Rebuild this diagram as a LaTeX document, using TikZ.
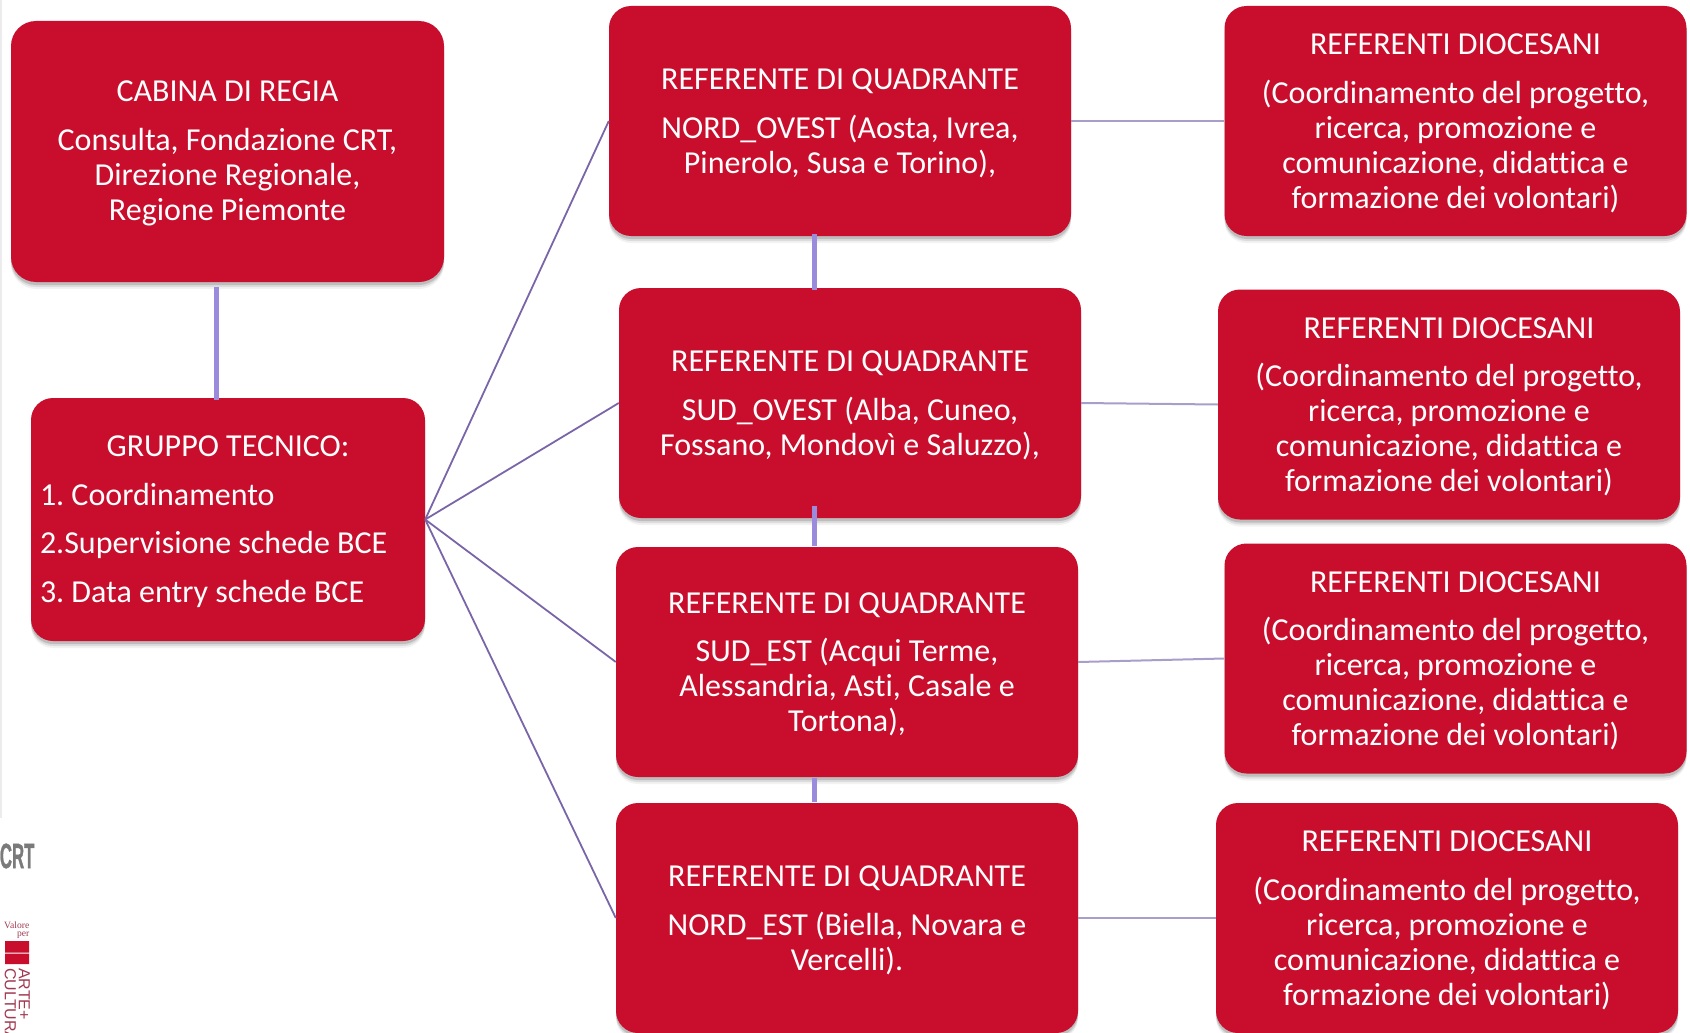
\documentclass[tikz,border=0pt]{standalone}
\usepackage{fontspec}
\setmainfont{Carlito}[Ligatures=NoCommon]
\newfontfamily\logoserif{Liberation Serif}
\newfontfamily\logosans{Liberation Sans}
\newfontfamily\logobold{Liberation Sans Bold}[FakeBold=1.5]
\usetikzlibrary{shadows,calc}
\definecolor{boxred}{HTML}{C80E2C}
\definecolor{thickline}{HTML}{9B8BDC}
\definecolor{fanline}{HTML}{7A65A8}
\definecolor{linkline}{HTML}{A99DC9}
\definecolor{logogrey}{HTML}{7A7A7A}
\definecolor{logored}{HTML}{A03A52}
\tikzset{
  x=1pt,y=-1pt,
  softshadow/.style={
    general shadow={shadow yshift=-7pt,fill=black,fill opacity=.05},
    general shadow={shadow yshift=-5pt,fill=black,fill opacity=.09},
    general shadow={shadow yshift=-3pt,fill=black,fill opacity=.14}},
  box/.style={softshadow,fill=boxred,text=white,rounded corners=22pt,inner sep=0pt,
    align=center,font=\fontsize{32}{35}\selectfont\frenchspacing},
  quad/.style={box,minimum width=462pt,minimum height=230pt,text width=440pt},
  thickconn/.style={draw=thickline,line width=5pt},
  fan/.style={draw=fanline,line width=1.8pt},
  link/.style={draw=linkline,line width=2pt},
}
\newcommand{\para}{\\[13.5pt]}
\newcommand{\startbox}{\spaceskip=.226em\relax\leavevmode\rule{0pt}{25pt}}
\newcommand{\lft}[1]{\makebox[376pt][l]{#1}}
\newcommand{\refdio}{\startbox REFERENTI DIOCESANI\para (Coordinamento del progetto,\\ ricerca, promozione e\\ comunicazione, didattica e\\ formazione dei volontari)}
\begin{document}
\begin{tikzpicture}
\useasboundingbox (0,0) rectangle (1690,1033);
\clip (0,0) rectangle (1690,1033);
\fill[gray!15] (0,0) rectangle (2,818);
% logos
\node[anchor=east,inner sep=0pt,text=logogrey,font=\logobold\fontsize{35}{35}\selectfont,xscale=.48] (crt) at (34.5,856) {CRT};
\node[anchor=north east,inner sep=0pt,align=right,text=logored,font=\logoserif\fontsize{9.6}{7.5}\selectfont] (valore) at (29.5,922) {Valore\\per};
\fill[boxred] (5,941) rectangle (29,952.5) (5,953.5) rectangle (29,964);
\node[rotate=-90,anchor=north west,inner sep=0pt,align=left,text=logored,font=\logosans\fontsize{16}{14}\selectfont] (arte) at (30,968) {ARTE+\\CULTURA};
% boxes
\node[box,rounded corners=25pt,minimum width=433pt,minimum height=261pt,text width=420pt] (cab) at (227.5,151.5)
  {\startbox CABINA DI REGIA\para Consulta, Fondazione CRT,\\ Direzione Regionale,\\ Regione Piemonte};
\node[box,minimum width=394pt,minimum height=243pt,text width=376pt] (grp) at (228,519.5)
  {\startbox GRUPPO TECNICO:\\[13.5pt] \lft{1. Coordinamento}\\[13.5pt] \lft{2.Supervisione schede BCE}\\[13.5pt] \lft{3. Data entry schede BCE}};
\node[quad] (qa) at (840,121) {\startbox REFERENTE DI QUADRANTE\para NORD\_OVEST (Aosta, Ivrea,\\ Pinerolo, Susa e Torino),};
\node[quad] (qb) at (850,403) {\startbox REFERENTE DI QUADRANTE\para SUD\_OVEST (Alba, Cuneo,\\ Fossano, Mondovì e Saluzzo),};
\node[quad] (qc) at (847,662) {\startbox REFERENTE DI QUADRANTE\para SUD\_EST (Acqui Terme,\\ Alessandria, Asti, Casale e\\ Tortona),};
\node[quad] (qd) at (847,918) {\startbox REFERENTE DI QUADRANTE\para NORD\_EST (Biella, Novara e\\ Vercelli).};
\node[quad] (ra) at (1455.5,121) {\refdio};
\node[quad] (rb) at (1449,404.5) {\refdio};
\node[quad] (rc) at (1455.5,658.5) {\refdio};
\node[quad] (rd) at (1447,918) {\refdio};
% connectors
\draw[thickconn,shorten <=5pt,shorten >=-2pt] ([xshift=-11pt]cab.south) -- ([xshift=-11.5pt]grp.north);
\draw[thickconn,shorten <=-2pt,shorten >=-2pt] ([xshift=-26pt]qa.south) -- ([xshift=-36pt]qb.north);
\draw[thickconn,shorten <=-12pt,shorten >=1pt] ([xshift=-36pt]qb.south) -- ([xshift=-33pt]qc.north);
\draw[thickconn,shorten <=1pt,shorten >=1pt] ([xshift=-33pt]qc.south) -- ([xshift=-33pt]qd.north);
\foreach \t in {qa,qb,qc,qd} \draw[fan] (grp.east) -- (\t.west);
\draw[link] (qa.east) -- (ra.west);
\draw[link] (qb.east) -- (rb.west);
\draw[link] (qc.east) -- (rc.west);
\draw[link] (qd.east) -- (rd.west);
\end{tikzpicture}
\end{document}
